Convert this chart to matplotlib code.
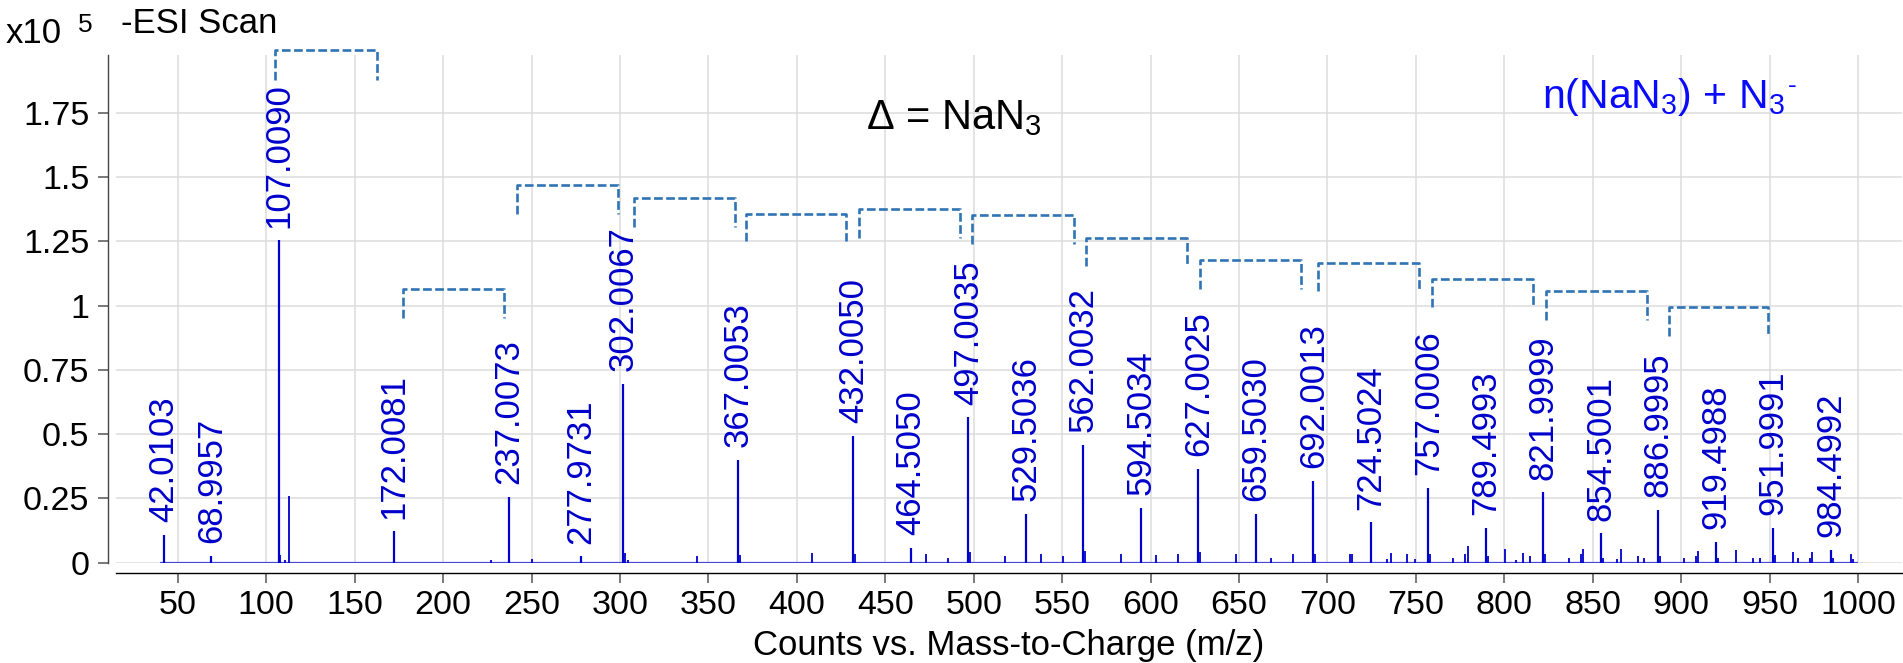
import matplotlib
matplotlib.use("Agg")
import matplotlib.pyplot as plt
from matplotlib.ticker import FuncFormatter

plt.rcParams['font.family'] = ['Liberation Sans', 'DejaVu Sans']
plt.rcParams['mathtext.fontset'] = 'custom'
plt.rcParams['mathtext.rm'] = 'Liberation Sans'
plt.rcParams['mathtext.it'] = 'Liberation Sans:italic'
plt.rcParams['mathtext.bf'] = 'Liberation Sans:bold'

# ---- data (intensity in units of 1e5 counts) ----
label_mz = [42.0103, 68.9957, 107.0090, 172.0081, 237.0073, 277.9731, 302.0067,
            367.0053, 432.0050, 464.5050, 497.0035, 529.5036, 562.0032, 594.5034,
            627.0025, 659.5030, 692.0013, 724.5024, 757.0006, 789.4993, 821.9999,
            854.5001, 886.9995, 919.4988, 951.9991, 984.4992]
label_int = [0.108, 0.027, 1.255, 0.123, 0.257, 0.025, 0.697,
             0.400, 0.494, 0.058, 0.566, 0.190, 0.458, 0.214,
             0.365, 0.190, 0.319, 0.158, 0.292, 0.135, 0.275,
             0.114, 0.206, 0.082, 0.136, 0.050]

minor_mz = [107.6, 110.5, 113.0, 227.0, 250.5, 303.0, 304.5, 343.5, 368.0, 408.5,
            433.0, 473.0, 485.5, 498.0, 517.5, 538.0, 550.5, 563.0, 583.0, 603.0,
            615.5, 628.0, 648.0, 668.0, 680.5, 693.0, 712.5, 713.6, 733.5, 736.0,
            745.0, 749.5, 758.0, 771.0, 778.0, 779.3, 790.5, 800.5, 806.5, 810.3,
            814.5, 823.0, 836.3, 843.2, 844.3, 855.5, 863.5, 865.8, 875.3, 879.1,
            888.0, 901.3, 908.5, 909.4, 921.0, 931.0, 940.4, 944.3, 953.0, 963.4,
            965.8, 973.0, 974.1, 986.0, 996.0, 997.0]
minor_int = [0.030, 0.010, 0.258, 0.011, 0.014, 0.039, 0.010, 0.027, 0.030, 0.039,
             0.035, 0.035, 0.017, 0.040, 0.025, 0.035, 0.025, 0.045, 0.034, 0.030,
             0.035, 0.040, 0.035, 0.020, 0.034, 0.035, 0.034, 0.034, 0.015, 0.036,
             0.033, 0.016, 0.035, 0.020, 0.033, 0.066, 0.025, 0.053, 0.010, 0.036,
             0.025, 0.035, 0.020, 0.033, 0.055, 0.020, 0.013, 0.052, 0.025, 0.020,
             0.025, 0.017, 0.025, 0.045, 0.020, 0.050, 0.020, 0.018, 0.030, 0.040,
             0.020, 0.020, 0.042, 0.020, 0.033, 0.015]

scan_range = [40.0, 1000.0]

# brackets: left m/z, right m/z, top, bottom (1e5 counts)
br_left = [105.2, 177.3, 241.9, 307.7, 371.5, 435.4, 499.2, 563.7, 628.2, 694.7, 759.2, 823.7, 893.0]
br_right = [162.7, 234.3, 298.8, 365.3, 427.8, 492.3, 556.8, 620.6, 685.1, 751.6, 816.2, 880.7, 949.3]
br_top = [1.995, 1.065, 1.470, 1.420, 1.358, 1.377, 1.354, 1.264, 1.179, 1.165, 1.103, 1.056, 0.995]
br_bot = [1.878, 0.952, 1.358, 1.306, 1.250, 1.264, 1.240, 1.155, 1.065, 1.056, 0.995, 0.943, 0.881]

x_ticks = list(range(50, 1001, 50))
y_ticks = [0, 0.25, 0.5, 0.75, 1, 1.25, 1.5, 1.75]

# ---- figure ----
W, H = 1903, 663
fig = plt.figure(figsize=(W / 100, H / 100), dpi=100)
ax_l, ax_r, ax_b, ax_t = 116, 1902, 562.7, 55
ax = fig.add_axes([ax_l / W, (H - ax_b) / H, (ax_r - ax_l) / W, (ax_b - ax_t) / H])
ax.set_xlim(15.1, 1024.8)
ax.set_ylim(0, 1.975)

ax.set_xticks(x_ticks)
ax.set_yticks(y_ticks)
ax.yaxis.set_major_formatter(FuncFormatter(lambda v, p: f"{v:g}"))
ax.grid(True, color='#dcdcdc', lw=1.1, zorder=0)
ax.set_axisbelow(True)

for s in ['top', 'right']:
    ax.spines[s].set_visible(False)
ax.spines['left'].set_position(('outward', 5.8))
ax.spines['bottom'].set_position(('outward', 7.6))
ax.spines['left'].set_color('#444444')
ax.spines['left'].set_linewidth(1.0)
ax.spines['bottom'].set_color('#000000')
ax.spines['bottom'].set_linewidth(1.0)
ax.tick_params(axis='both', length=7.2, width=1.1, color='#555555', labelsize=24.5)
ax.tick_params(axis='x', pad=5)
ax.tick_params(axis='y', pad=6)

blue = '#0000cc'
# baseline and peaks
ax.hlines(0, scan_range[0], scan_range[1], color='#4646dc', lw=1.6, zorder=3)
ax.vlines(minor_mz, 0, minor_int, color=blue, lw=1.3, zorder=4)
ax.vlines(label_mz, 0, label_int, color=blue, lw=1.6, zorder=4)

for mz, h in zip(label_mz, label_int):
    ax.annotate(f"{mz:.4f}", xy=(mz, h), xytext=(0, 9.0), textcoords='offset points',
                rotation=90, ha='center', va='bottom', fontsize=25, color=blue)

for L, R, t, b in zip(br_left, br_right, br_top, br_bot):
    ax.plot([L, L, R, R], [b, t, t, b], color='#2f74b5', lw=1.9,
            linestyle=(0, (3.3, 1.3)), solid_joinstyle='round', dash_joinstyle='round',
            dash_capstyle='butt', clip_on=False, zorder=5)

fig.text(866 / W, (H - 129.3) / H, r'$\Delta$ = NaN$_3$', fontsize=30, color='black', va='baseline')
fig.text(1542 / W, (H - 108.3) / H, r'n(NaN$_3$) + N$_3$', fontsize=29.5,
         color='#0a0aff', va='baseline')
fig.text(1788 / W, (H - 93) / H, '-', fontsize=19, color='#0a0aff', va='baseline')

fig.text(6 / W, (H - 42.7) / H, 'x10', fontsize=25, va='baseline')
fig.text(78 / W, (H - 31.7) / H, '5', fontsize=19, va='baseline')
fig.text(121 / W, (H - 33) / H, '-ESI Scan', fontsize=25, va='baseline')
fig.text((ax_l + ax_r) / 2 / W, (H - 655) / H, 'Counts vs. Mass-to-Charge (m/z)',
         fontsize=25, ha='center', va='baseline')

fig.savefig('out.png', dpi=100)
